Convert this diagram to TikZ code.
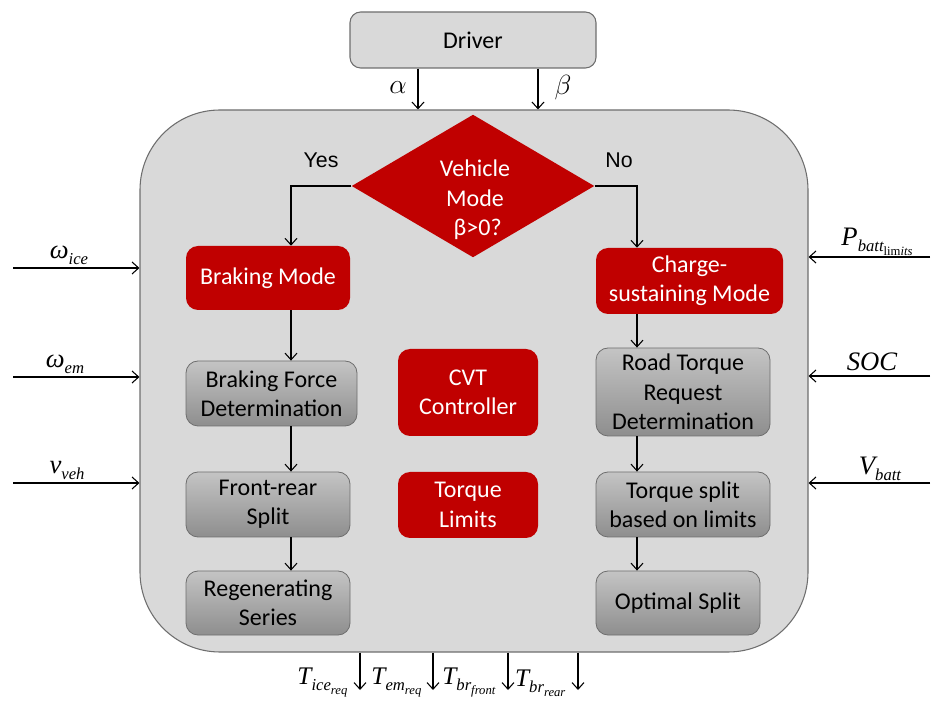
\documentclass[tikz,border=0pt]{standalone}
\usepackage{fontspec}
\setmainfont{Carlito}
\newfontfamily\arialf{Liberation Sans}
\newfontfamily\tnr{Liberation Serif}
\usetikzlibrary{shapes.geometric,arrows.meta}
\definecolor{bgray}{HTML}{D9D9D9}
\definecolor{bord}{HTML}{6E6E6E}
\definecolor{myred}{HTML}{C00000}
\definecolor{gtop}{HTML}{C4C4C4}
\definecolor{gbot}{HTML}{8E8E8E}
\newcommand\subA[1]{\raisebox{-4.5pt}{\fontsize{12.5}{13}\selectfont #1}}
\newcommand\subB[1]{\raisebox{-3pt}{\fontsize{9.5}{10}\selectfont #1}}
\tikzset{
  every node/.style={font=\fontsize{18}{22}\selectfont},
  redbox/.style={rectangle, rounded corners=9pt, fill=myred, draw=none, text=white, align=center, inner sep=2pt},
  graybox/.style={rectangle, rounded corners=9pt, top color=gtop, bottom color=gbot, draw=bord, line width=0.6pt, text=black, align=center, inner sep=2pt},
  conn/.style={draw=black, line width=0.8pt, -{Straight Barb[length=5pt,width=9pt]}},
  mlab/.style={font=\fontsize{21}{24}\selectfont, inner sep=1pt},
  tlab/.style={font=\tnr\itshape\fontsize{20}{24}\selectfont, inner sep=1pt},
  olab/.style={font=\tnr\itshape\fontsize{19}{24}\selectfont, inner sep=1pt, anchor=east},
}
\begin{document}
\begin{tikzpicture}[x=0.75pt,y=-0.75pt]
\useasboundingbox (0,0) rectangle (932,705);
% main box
\node[draw=bord, fill=bgray, line width=0.8pt, rounded corners=60pt, minimum width=501pt, minimum height=406.5pt, inner sep=0] (ems) at (474,381) {};
% driver
\node[draw=bord, fill=bgray, line width=0.8pt, rounded corners=8pt, minimum width=184.5pt, minimum height=42pt] (drv) at (473,40) {Driver};
% diamond
\node[diamond, fill=myred, draw=none, minimum width=182pt, minimum height=107pt, inner sep=0] (dia) at (473,186) {};
\node[text=white, align=center, inner sep=0] (diat) at (475,200) {Vehicle\\Mode\\\ β>0?};
\node[font=\arialf\fontsize{16}{19}\selectfont] (yes) at (321,160) {Yes};
\node[font=\arialf\fontsize{16}{19}\selectfont] (no) at (619,160) {No};
% left column
\node[redbox, minimum width=123pt, minimum height=48pt] (bm) at (268,278) {Braking Mode};
\node[graybox, minimum width=128.25pt, minimum height=48.75pt] (bfd) at (271.5,393.5) {Braking Force\\Determination};
\node[graybox, minimum width=123pt, minimum height=48.75pt] (frs) at (268,504.5) {Front-rear\\Split};
\node[graybox, minimum width=123pt, minimum height=48pt] (rgs) at (268,603) {Regenerating\\Series};
% middle
\node[redbox, minimum width=105pt, minimum height=65.25pt] (cvt) at (468,392.5) {CVT\\Controller};
\node[redbox, minimum width=105pt, minimum height=49.5pt] (tl) at (468,505) {Torque\\Limits};
% right column
\node[redbox, minimum width=140.25pt, minimum height=49.5pt] (csm) at (689.5,281) {Charge-\\sustaining Mode};
\node[graybox, minimum width=130.5pt, minimum height=66pt] (rtr) at (683,392) {Road Torque\\Request\\Determination};
\node[graybox, minimum width=130.5pt, minimum height=48.75pt] (tsb) at (683,504.5) {Torque split\\based on limits};
\node[graybox, minimum width=123pt, minimum height=48pt] (osp) at (678,603) {Optimal Split};
% column x positions
\coordinate (cl) at (291,0);
\coordinate (cr) at (637,0);
% flow connectors
\draw[conn] (dia.west) -| (bm.north -| cl);
\draw[conn] (dia.east) -| (csm.north -| cr);
\draw[conn] (bm.south -| cl) -- (bfd.north -| cl);
\draw[conn] (bfd.south -| cl) -- (frs.north -| cl);
\draw[conn] (frs.south -| cl) -- (rgs.north -| cl);
\draw[conn] (csm.south -| cr) -- (rtr.north -| cr);
\draw[conn] (rtr.south -| cr) -- (tsb.north -| cr);
\draw[conn] (tsb.south -| cr) -- (osp.north -| cr);
% driver outputs
\coordinate (xa) at (418,0);
\coordinate (xb) at (538,0);
\draw[conn] (drv.south -| xa) -- (ems.north -| xa);
\draw[conn] (drv.south -| xb) -- (ems.north -| xb);
\node[mlab] (alab) at (398,88) {$\alpha$};
\node[mlab] (blab) at (563,88) {$\beta$};
% left inputs
\coordinate (i1) at (13,268);
\coordinate (i2) at (13,377);
\coordinate (i3) at (13,483);
\draw[conn] (i1) -- (ems.west |- i1);
\draw[conn] (i2) -- (ems.west |- i2);
\draw[conn] (i3) -- (ems.west |- i3);
\node[tlab] (l1) at (69,255) {ω\subA{ice}};
\node[tlab] (l2) at (65,364) {ω\subA{em}};
\node[tlab] (l3) at (67,470) {v\subA{veh}};
% right inputs
\coordinate (r1) at (930,257);
\coordinate (r2) at (930,376);
\coordinate (r3) at (930,483);
\draw[conn] (r1) -- (ems.east |- r1);
\draw[conn] (r2) -- (ems.east |- r2);
\draw[conn] (r3) -- (ems.east |- r3);
\node[tlab] (rl1) at (877,242) {P\subA{batt\subB{\upshape lim\itshape its}}};
\node[tlab] (rl2) at (872,362) {SOC};
\node[tlab] (rl3) at (880,469) {V\subA{batt}};
% outputs
\coordinate (o1) at (360,690);
\coordinate (o2) at (433,690);
\coordinate (o3) at (508,690);
\coordinate (o4) at (578,690);
\draw[conn] (ems.south -| o1) -- (o1);
\draw[conn] (ems.south -| o2) -- (o2);
\draw[conn] (ems.south -| o3) -- (o3);
\draw[conn] (ems.south -| o4) -- (o4);
\node[olab] (ol1) at (349,683) {T\subA{ice\subB{req}}};
\node[olab] (ol2) at (423,683) {T\subA{em\subB{req}}};
\node[olab] (ol3) at (497,683) {T\subA{br\subB{front}}};
\node[olab] (ol4) at (567,683) {T\subA{br\subB{rear}}};
\end{tikzpicture}
\end{document}
